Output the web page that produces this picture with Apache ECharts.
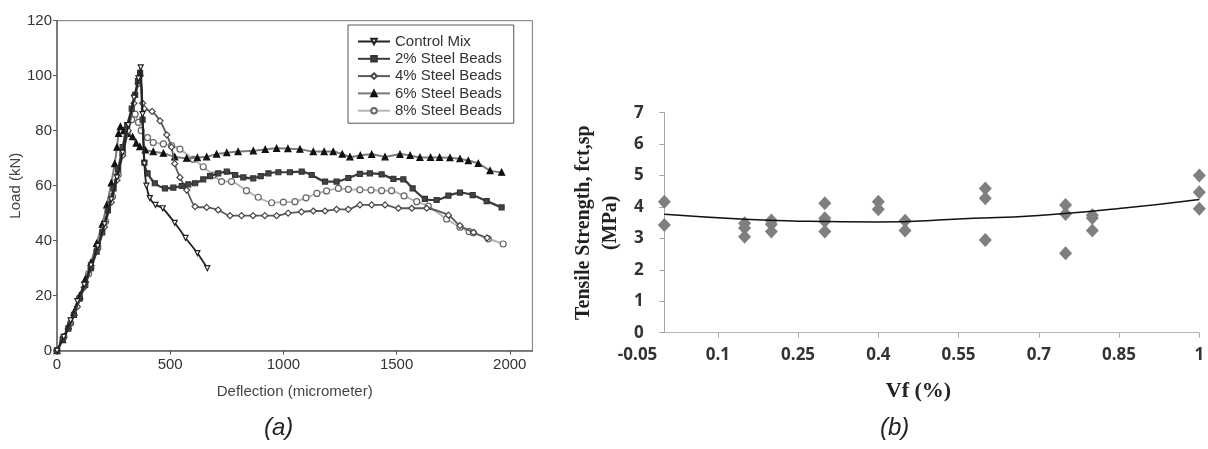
<!DOCTYPE html>
<html>
<head>
<meta charset="utf-8">
<script src="https://cdn.jsdelivr.net/npm/echarts@6/dist/echarts.min.js"></script>
<style>
html,body{margin:0;padding:0;background:#fff;}
#chart{width:1208px;height:449px;}
</style>
</head>
<body>
<div id="chart"></div>
<script>
// ---------- Panel (a): load vs deflection ----------
const seriesNamesA = ['Control Mix', '2% Steel Beads', '4% Steel Beads', '6% Steel Beads', '8% Steel Beads'];
const xTicksA = [0, 500, 1000, 1500, 2000];

const controlMix = [[0,0],[30,5],[60,11],[90,18],[120,24],[150,31],[180,38],[210,46],[240,55],[265,63],[290,72],[315,82],[340,92],[360,99],[370,103],[378,86],[386,68],[395,60],[410,55.5],[435,53],[467,51.8],[520,46.5],[568,41],[620,35.5],[664,30]];

const steel2 = [[0,0],[25,4],[50,8],[75,13],[100,19],[125,24],[150,30],[175,36],[200,43],[225,51],[250,59],[270,66],[290,74],[310,82],[330,88],[345,93],[358,98],[367,101],[378,84],[386,68.4],[400,64.5],[432,60.9],[477,59],[514,59.3],[551,59.9],[580,60.5],[610,60.9],[646,62.3],[676,63.5],[712,64.5],[750,65.1],[787,63.9],[823,63],[867,62.7],[900,63.5],[934,64.5],[978,64.9],[1029,64.9],[1081,65.1],[1125,63.9],[1184,61.5],[1235,61.5],[1287,62.8],[1338,64.3],[1382,64.5],[1434,64.1],[1486,62.5],[1530,62.3],[1571,59],[1625,55.2],[1677,54.8],[1729,56.4],[1780,57.5],[1836,56.6],[1898,54.4],[1964,52.1]];

const steel4 = [[0,0],[30,5],[60,10],[90,16],[120,23],[150,30],[180,37],[210,45],[240,54],[265,62],[290,71],[315,80],[340,90],[358,97],[368,100],[378,90],[385,88],[420,87],[455,83.6],[485,78.5],[506,74],[520,68],[543,63],[573,58.4],[610,52.4],[661,52.1],[712,51.2],[764,49.1],[815,49.1],[866,49.1],[918,49.1],[970,49.1],[1021,50],[1080,50.5],[1132,50.8],[1184,50.8],[1235,51.4],[1287,51.4],[1338,53],[1390,53],[1449,53],[1508,51.8],[1567,51.8],[1633,51.8],[1729,49.3],[1780,45.5],[1840,43],[1900,41]];

const steel6 = [[0,0],[25,4],[50,9],[75,14],[100,20],[125,26],[150,32],[175,39],[200,46],[220,53],[240,61],[255,68],[265,74],[272,79],[280,81.5],[295,80],[310,79],[334,77.8],[350,75.5],[366,74.2],[390,73],[425,72.4],[470,71.8],[520,70.5],[573,70],[620,70.2],[661,70.5],[705,71.5],[750,72],[800,72.4],[867,72.7],[920,73.2],[970,73.6],[1020,73.5],[1073,73.3],[1132,72.4],[1180,72.4],[1220,72.4],[1260,71.5],[1294,70.5],[1340,71],[1390,71.4],[1449,70.5],[1515,71.4],[1560,71],[1603,70.3],[1650,70.3],[1690,70.3],[1736,70.2],[1780,69.8],[1817,69.1],[1861,68.1],[1913,65.5],[1964,64.9]];

const steel8 = [[0,0],[30,5],[60,10],[100,19],[140,28],[180,38],[215,47],[245,56],[270,64],[290,72],[310,79],[330,84],[345,86],[360,83],[372,80],[400,77.5],[425,75.7],[470,75.2],[506,74.6],[543,73.3],[602,69.6],[646,66.9],[691,63.9],[727,61.5],[771,61.5],[837,58.2],[889,55.8],[948,53.8],[1000,54],[1051,54.2],[1100,55.6],[1148,57.2],[1191,58.1],[1243,59],[1287,58.7],[1338,58.5],[1387,58.4],[1434,58.2],[1478,58.2],[1533,56.3],[1589,54.2],[1640,52.6],[1721,47.9],[1780,44.9],[1821,43.3],[1839,42.9],[1905,40.7],[1971,38.8]];

// ---------- Panel (b): tensile strength vs Vf ----------
const xTicksB = [-0.05, 0.1, 0.25, 0.4, 0.55, 0.7, 0.85, 1];
const tensilePoints = [[0,4.17],[0,3.43],[0.15,3.48],[0.15,3.33],[0.15,3.05],[0.2,3.57],[0.2,3.45],[0.2,3.22],[0.3,4.12],[0.3,3.64],[0.3,3.55],[0.3,3.22],[0.4,4.17],[0.4,3.93],[0.45,3.56],[0.45,3.25],[0.6,4.59],[0.6,4.28],[0.6,2.95],[0.75,4.06],[0.75,3.78],[0.75,2.53],[0.8,3.74],[0.8,3.65],[0.8,3.25],[1,5.0],[1,4.47],[1,3.94]];
const trendPoints = [[0,3.77],[0.15,3.61],[0.25,3.55],[0.4,3.52],[0.55,3.62],[0.7,3.73],[0.85,3.95],[1,4.24]];
const baseLine = [[0,0],[1,0]];

const chart = echarts.init(document.getElementById('chart'), null, {renderer:'canvas'});
const fA = 'Liberation Sans, Arial, sans-serif';

const styleA = [
  {color:'#222', lw:1.8, symbol:'triangle', size:5, fill:'#fff', border:'#222', rotate:180},
  {color:'#3a3a3a', lw:2.2, symbol:'rect', size:5, fill:'#444', border:'#333', rotate:0},
  {color:'#5a5a5a', lw:1.8, symbol:'diamond', size:6, fill:'#fff', border:'#444', rotate:0},
  {color:'#7a7a7a', lw:2.0, symbol:'triangle', size:6, fill:'#111', border:'#111', rotate:0},
  {color:'#b5b5b5', lw:2.0, symbol:'circle', size:6, fill:'#fff', border:'#666', rotate:0}
];
const dataA = [controlMix, steel2, steel4, steel6, steel8];

const seriesA = dataA.map((d, i) => ({
  name: seriesNamesA[i],
  type: 'line',
  xAxisIndex: 0, yAxisIndex: 0,
  data: d,
  smooth: 0.2,
  symbol: styleA[i].symbol,
  symbolSize: styleA[i].size,
  symbolRotate: styleA[i].rotate,
  showAllSymbol: true,
  lineStyle: {color: styleA[i].color, width: styleA[i].lw},
  itemStyle: {color: styleA[i].fill, borderColor: styleA[i].border, borderWidth: 1.2},
  z: 10 - i,
  animation: false
}));

const option = {
  animation: false,
  backgroundColor: '#fff',
  legend: {
    data: seriesNamesA,
    orient: 'vertical',
    left: 348, top: 25,
    padding: [9, 12, 5, 9],
    itemWidth: 32, itemHeight: 7, itemGap: 2.3,
    borderColor: '#555', borderWidth: 1,
    textStyle: {fontFamily: fA, fontSize: 15, color: '#333', lineHeight: 14},
    selectedMode: false
  },
  grid: [
    {left: 57, top: 20.7, width: 475.4, height: 330, show: true, borderColor: '#777', borderWidth: 1, containLabel: false},
    {left: 637.6, top: 112.7, width: 561.7, height: 220, containLabel: false}
  ],
  xAxis: [
    {
      gridIndex: 0, type: 'value', min: 0, max: 2100,
      name: 'Deflection (micrometer)', nameLocation: 'middle', nameGap: 34,
      nameTextStyle: {fontFamily: fA, fontSize: 15, color: '#444'},
      axisLine: {show: true, onZero: false, lineStyle: {color: '#666', width: 1.5}},
      axisTick: {show: true, length: 4, lineStyle: {color: '#555'}, customValues: xTicksA},
      axisLabel: {fontFamily: fA, fontSize: 15, color: '#333', margin: 7, customValues: xTicksA, formatter: v => String(v)},
      splitLine: {show: false}
    },
    {
      gridIndex: 1, type: 'value', min: -0.05, max: 1,
      name: 'Vf (%)', nameLocation: 'middle', nameGap: 48,
      nameTextStyle: {fontFamily: 'Liberation Serif, Times New Roman, serif', fontWeight: 'bold', fontSize: 22, color: '#222'},
      axisLine: {show: false},
      axisTick: {show: true, length: 5, lineStyle: {color: '#a6a6a6'}, customValues: xTicksB.slice(1)},
      axisLabel: {fontFamily: 'Open Sans, sans-serif', fontWeight: 'bold', fontSize: 17, color: '#333', margin: 14, customValues: xTicksB, formatter: v => String(v)},
      splitLine: {show: false}
    }
  ],
  yAxis: [
    {
      gridIndex: 0, type: 'value', min: 0, max: 120, interval: 20,
      name: 'Load (kN)', nameLocation: 'middle', nameGap: 30,
      nameTextStyle: {fontFamily: fA, fontSize: 15, color: '#444'},
      axisLine: {show: true, onZero: false, lineStyle: {color: '#666', width: 1.5}},
      axisTick: {show: true, length: 4, lineStyle: {color: '#555'}},
      axisLabel: {fontFamily: fA, fontSize: 15, color: '#333', margin: 5},
      splitLine: {show: false}
    },
    {
      gridIndex: 1, type: 'value', min: 0, max: 7, interval: 1,
      name: 'Tensile Strength, fct,sp\n(MPa)', nameLocation: 'middle', nameGap: 13,
      nameTextStyle: {fontFamily: 'Liberation Serif, Times New Roman, serif', fontWeight: 'bold', fontSize: 20, color: '#222', lineHeight: 27},
      axisLine: {show: true, onZero: true, lineStyle: {color: '#a6a6a6', width: 1}},
      axisTick: {show: true, length: 5, lineStyle: {color: '#a6a6a6'}},
      axisLabel: {fontFamily: 'Open Sans, sans-serif', fontWeight: 'bold', fontSize: 17, color: '#333', margin: -6},
      splitLine: {show: false}
    }
  ],
  series: seriesA.concat([
    {
      type: 'line', xAxisIndex: 1, yAxisIndex: 1, data: baseLine,
      symbol: 'none', silent: true,
      lineStyle: {color: '#a6a6a6', width: 1}, z: 1
    },
    {
      type: 'scatter', xAxisIndex: 1, yAxisIndex: 1, data: tensilePoints,
      symbol: 'diamond', symbolSize: [13, 14],
      itemStyle: {color: '#7f7f7f', opacity: 1}, z: 3
    },
    {
      type: 'line', xAxisIndex: 1, yAxisIndex: 1, data: trendPoints,
      smooth: true, symbol: 'none',
      lineStyle: {color: '#111', width: 1.5}, z: 4
    }
  ]),
  graphic: [
    {type: 'text', left: 264, top: 416, style: {text: '(a)', fontFamily: 'Liberation Sans Narrow, Liberation Sans, sans-serif', fontStyle: 'italic', fontSize: 24, fill: '#222'}},
    {type: 'text', left: 880, top: 416, style: {text: '(b)', fontFamily: 'Liberation Sans Narrow, Liberation Sans, sans-serif', fontStyle: 'italic', fontSize: 24, fill: '#222'}}
  ]
};
chart.setOption(option);
</script>
</body>
</html>
